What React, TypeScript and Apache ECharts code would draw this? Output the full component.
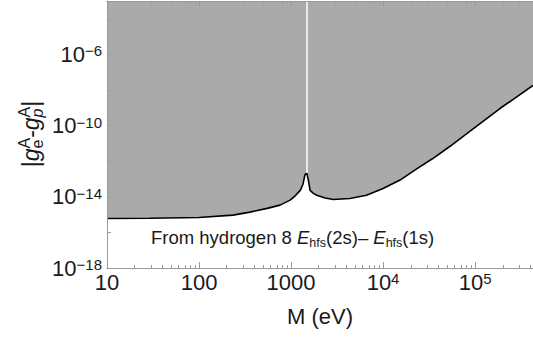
import React, { useEffect, useRef } from 'react';
import * as echarts from 'echarts';

// ---- data ----
const massEV = [10, 29, 100, 234, 358, 550, 759, 977, 1104, 1259, 1349, 1413, 1479, 1542, 1610, 1750, 1901, 2344, 2884, 4365, 6607, 10000, 15300, 23200, 34700, 53500, 81300, 122000, 186000, 283700, 426000];
const coupling = [6.0e-16, 6.2e-16, 6.9e-16, 9.3e-16, 1.38e-15, 2.24e-15, 3.4e-15, 6.5e-15, 1.1e-14, 2.3e-14, 5.1e-14, 1.66e-13, 2.19e-13, 8.7e-14, 2.3e-14, 1.55e-14, 1.23e-14, 8.5e-15, 7.1e-15, 8.1e-15, 1.23e-14, 2.95e-14, 8.7e-14, 3.7e-13, 1.41e-12, 6.9e-12, 3.5e-11, 1.74e-10, 9.1e-10, 4.1e-9, 1.8e-8];
const resonanceMass = 1479;
const resonancePeak = 2.19e-13;

const xMin = 10;
const xMax = 426000;
const yMin = 1e-18;
const yMax = 1e-3;

const xLabelValues = [10, 100, 1000, 1e4, 1e5];
const xMinorMultipliers = [2, 3, 4, 5, 6, 7, 8, 9];
const yLabelValues = [1e-18, 1e-14, 1e-10, 1e-6];
const yTickValues = [1e-18, 1e-16, 1e-14, 1e-12, 1e-10, 1e-8, 1e-6, 1e-4];

const FONT = "'Liberation Sans', Arial, Helvetica, sans-serif";
const AXIS_GRAY = '#9a9a9a';
const TEXT = '#1a1a1a';

const xMinorTicks: number[] = [];
xLabelValues.forEach((d) => {
  xMinorMultipliers.forEach((m) => {
    const v = d * m;
    if (v <= xMax) xMinorTicks.push(v);
  });
});

const measureCtx = (typeof document !== 'undefined'
  ? document.createElement('canvas').getContext('2d')
  : null) as CanvasRenderingContext2D | null;

function textWidth(text: string, size: number, italic: boolean) {
  if (!measureCtx) return text.length * size * 0.55;
  measureCtx.font = `${italic ? 'italic ' : ''}${size}px ${FONT}`;
  return measureCtx.measureText(text).width;
}

type Piece = { text: string; size: number; italic?: boolean; dy?: number; stackWith?: Piece };

function buildPieces(pieces: Piece[], startX: number, baseline: number, center: boolean) {
  const widths = pieces.map((p) => {
    const w1 = textWidth(p.text, p.size, !!p.italic);
    const w2 = p.stackWith ? textWidth(p.stackWith.text, p.stackWith.size, !!p.stackWith.italic) : 0;
    return Math.max(w1, w2);
  });
  const total = widths.reduce((a, b) => a + b, 0);
  let x = center ? -total / 2 : startX;
  const els: any[] = [];
  const mk = (p: Piece, px: number) => ({
    type: 'text',
    x: px,
    y: baseline + (p.dy || 0) - 0.35 * p.size,
    silent: true,
    style: {
      text: p.text,
      fontSize: p.size,
      fontFamily: FONT,
      fontStyle: p.italic ? 'italic' : 'normal',
      fill: TEXT,
      textAlign: 'left',
      textVerticalAlign: 'middle',
      align: 'left',
      verticalAlign: 'middle',
    },
  });
  pieces.forEach((p, i) => {
    els.push(mk(p, x));
    if (p.stackWith) els.push(mk(p.stackWith, x));
    x += widths[i];
  });
  return els;
}

function powLabel(v: number, plainUpTo: number) {
  const e = Math.round(Math.log10(v));
  if (e >= 0 && v <= plainUpTo) return `{b|${Math.round(v)}}`;
  return `{b|10}{s|${e < 0 ? '\u2212' + -e : e}}`;
}

const labelRich = {
  b: { fontSize: 22, fontFamily: FONT, color: TEXT },
  s: { fontSize: 15, fontFamily: FONT, color: TEXT, verticalAlign: 'top' },
};

export default function App() {
  const ref = useRef<HTMLDivElement>(null);

  useEffect(() => {
    if (!ref.current) return;
    const chart = echarts.init(ref.current, undefined, { renderer: 'svg' });

    const yTitle = buildPieces(
      [
        { text: '|', size: 23 },
        { text: 'g', size: 23, italic: true },
        { text: 'A', size: 16, dy: -8.5, stackWith: { text: 'e', size: 16, dy: 4 } },
        { text: '-', size: 23 },
        { text: 'g', size: 23, italic: true },
        { text: 'A', size: 16, dy: -8.5, stackWith: { text: 'p', size: 16, italic: true, dy: 4 } },
        { text: '|', size: 23 },
      ],
      0,
      6,
      true
    );

    const note = buildPieces(
      [
        { text: 'From hydrogen 8 ', size: 18.5 },
        { text: 'E', size: 18.5, italic: true },
        { text: 'hfs', size: 12.5, dy: 3.5 },
        { text: '(2s)\u2013 ', size: 18.5 },
        { text: 'E', size: 18.5, italic: true },
        { text: 'hfs', size: 12.5, dy: 3.5 },
        { text: '(1s)', size: 18.5 },
      ],
      151,
      244,
      false
    );

    const gridRect = { left: 107, right: 0, top: 1, bottom: 70, outerBoundsMode: 'none' };

    const baseX = {
      type: 'log',
      logBase: 10,
      min: xMin,
      max: xMax,
      z: 5,
      splitLine: { show: false },
    };

    chart.setOption({
      animation: false,
      backgroundColor: '#ffffff',
      grid: [{ ...gridRect }, { ...gridRect }],
      xAxis: [
        {
          ...baseX,
          gridIndex: 0,
          position: 'bottom',
          name: 'M (eV)',
          nameLocation: 'middle',
          nameGap: 37,
          nameTextStyle: { fontSize: 22, fontFamily: FONT, color: TEXT },
          axisLine: { show: true, lineStyle: { color: AXIS_GRAY, width: 1 } },
          axisTick: { show: true, inside: true, length: 6, customValues: xLabelValues, lineStyle: { color: AXIS_GRAY } },
          axisLabel: {
            show: true,
            margin: 3,
            customValues: xLabelValues,
            formatter: (v: number) => powLabel(v, 1000),
            rich: labelRich,
          },
        },
        {
          ...baseX,
          gridIndex: 0,
          position: 'top',
          axisLine: { show: true, lineStyle: { color: AXIS_GRAY, width: 1 } },
          axisTick: { show: true, inside: true, length: 6, customValues: xLabelValues, lineStyle: { color: AXIS_GRAY } },
          axisLabel: { show: false },
        },
        {
          ...baseX,
          gridIndex: 1,
          position: 'bottom',
          axisLine: { show: false },
          axisTick: { show: true, inside: true, length: 3, customValues: xMinorTicks, lineStyle: { color: AXIS_GRAY } },
          axisLabel: { show: false },
        },
        {
          ...baseX,
          gridIndex: 1,
          position: 'top',
          axisLine: { show: false },
          axisTick: { show: true, inside: true, length: 3, customValues: xMinorTicks, lineStyle: { color: AXIS_GRAY } },
          axisLabel: { show: false },
        },
      ],
      yAxis: [
        {
          type: 'log',
          logBase: 10,
          gridIndex: 0,
          min: yMin,
          max: yMax,
          z: 5,
          position: 'left',
          splitLine: { show: false },
          axisLine: { show: true, lineStyle: { color: AXIS_GRAY, width: 1 } },
          axisTick: { show: true, inside: true, length: 4, customValues: yTickValues, lineStyle: { color: AXIS_GRAY } },
          axisLabel: {
            show: true,
            margin: 5,
            customValues: yLabelValues,
            formatter: (v: number) => powLabel(v, 0),
            rich: labelRich,
          },
        },
        {
          type: 'log',
          logBase: 10,
          gridIndex: 1,
          min: yMin,
          max: yMax,
          show: false,
        },
      ],
      series: [
        {
          type: 'line',
          xAxisIndex: 0,
          yAxisIndex: 0,
          data: massEV.map((m, i) => [m, coupling[i]]),
          showSymbol: false,
          symbol: 'none',
          smooth: false,
          z: 2,
          lineStyle: { color: '#000000', width: 1.6 },
          areaStyle: { color: '#aaaaaa', opacity: 1, origin: 'end' },
          markLine: {
            silent: true,
            symbol: 'none',
            label: { show: false },
            lineStyle: { color: '#ffffff', width: 1.5, type: 'solid' },
            data: [[{ coord: [resonanceMass, resonancePeak] }, { coord: [resonanceMass, yMax] }]],
          },
        },
      ],
      graphic: [
        { type: 'group', x: 33, y: 134, rotation: Math.PI / 2, children: yTitle },
        { type: 'group', x: 0, y: 0, children: note },
      ],
    });

    return () => chart.dispose();
  }, []);

  return (
    <div
      ref={ref}
      style={{ position: 'absolute', left: 0, top: 0, width: 533, height: 338 }}
    />
  );
}
